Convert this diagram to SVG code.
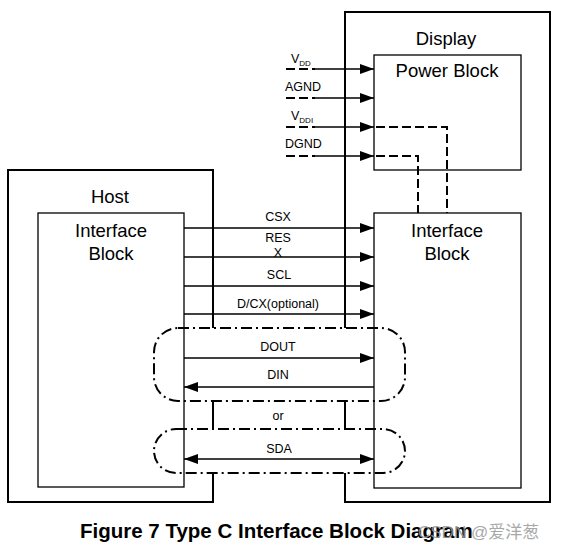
<svg xmlns="http://www.w3.org/2000/svg" width="563" height="552" viewBox="0 0 563 552">
<style>
text{font-family:"Liberation Sans",Arial,sans-serif;fill:#000}
.big{font-size:18.5px;text-anchor:middle}
.sm{font-size:12.5px;text-anchor:middle}
.pw{font-size:12.5px}
.sub{font-size:8px}
.outer{fill:none;stroke:#000;stroke-width:2}
.inner{fill:#fff;stroke:#000;stroke-width:1.3}
.sig{fill:none;stroke:#000;stroke-width:1.3}
.dash{fill:none;stroke:#000;stroke-width:2;stroke-dasharray:9 4}
.dd{fill:none;stroke:#000;stroke-width:2;stroke-dasharray:11 4 2 4}
</style>
<defs>
<marker id="ah" markerWidth="15" markerHeight="11" refX="14" refY="5" orient="auto-start-reverse" markerUnits="userSpaceOnUse">
<path d="M0,0 L14,5 L0,10 z" fill="#000"/>
</marker>
</defs>
<g id="host">
<path class="outer" d="M213,328 L213,170 L8,170 L8,502 L213,502 L213,473"/>
<line class="outer" x1="213" y1="401" x2="213" y2="429"/>
<text class="big" x="110" y="203">Host</text>
</g>
<g id="display">
<path class="outer" d="M345,328 L345,12 L550,12 L550,502 L345,502 L345,473"/>
<line class="outer" x1="345" y1="401" x2="345" y2="429"/>
<text class="big" x="446" y="45">Display</text>
</g>
<g id="host-interface">
<rect class="inner" x="38" y="213" width="146" height="274"/>
<text class="big" x="111" y="237">Interface</text>
<text class="big" x="111" y="260">Block</text>
</g>
<g id="power-block">
<rect class="inner" x="374" y="55" width="147" height="115"/>
<text class="big" x="447" y="77">Power Block</text>
</g>
<g id="display-interface">
<rect class="inner" x="374" y="213" width="147" height="275"/>
<text class="big" x="447" y="237">Interface</text>
<text class="big" x="447" y="260">Block</text>
</g>
<g id="connectors">
<!-- power inputs -->
<line class="dash" x1="286" y1="69" x2="315" y2="69" stroke-dasharray="10 4"/>
<line class="sig" x1="314" y1="69" x2="374" y2="69" marker-end="url(#ah)"/>
<line class="dash" x1="286" y1="98" x2="315" y2="98" stroke-dasharray="10 4"/>
<line class="sig" x1="314" y1="98" x2="374" y2="98" marker-end="url(#ah)"/>
<line class="dash" x1="286" y1="127" x2="315" y2="127" stroke-dasharray="10 4"/>
<line class="sig" x1="314" y1="127" x2="374" y2="127" marker-end="url(#ah)"/>
<line class="dash" x1="286" y1="156" x2="315" y2="156" stroke-dasharray="10 4"/>
<line class="sig" x1="314" y1="156" x2="374" y2="156" marker-end="url(#ah)"/>
<path class="dash" d="M376,127 L447,127 L447,213"/>
<path class="dash" d="M376,156 L418,156 L418,213"/>
<!-- control signals -->
<line class="sig" x1="184" y1="228" x2="374" y2="228" marker-end="url(#ah)"/>
<line class="sig" x1="184" y1="257" x2="374" y2="257" marker-end="url(#ah)"/>
<line class="sig" x1="184" y1="286" x2="374" y2="286" marker-end="url(#ah)"/>
<line class="sig" x1="184" y1="314" x2="374" y2="314" marker-end="url(#ah)"/>
<!-- data -->
<line class="sig" x1="184" y1="358" x2="374" y2="358" marker-end="url(#ah)"/>
<line class="sig" x1="374" y1="387" x2="184" y2="387" marker-end="url(#ah)"/>
<line class="sig" x1="184" y1="459" x2="374" y2="459" marker-start="url(#ah)" marker-end="url(#ah)"/>
<rect class="dd" x="154" y="328" width="251" height="73" rx="24" ry="24"/>
<rect class="dd" x="154" y="429" width="251" height="44" rx="22" ry="22"/>
</g>
<g id="labels">
<text class="pw" x="291" y="63">V<tspan class="sub" dy="3">DD</tspan></text>
<text class="pw" x="285" y="91">AGND</text>
<text class="pw" x="291" y="120">V<tspan class="sub" dy="3">DDI</tspan></text>
<text class="pw" x="285" y="148">DGND</text>
<text class="sm" x="278" y="221">CSX</text>
<text class="sm" x="278" y="242">RES</text>
<text class="sm" x="278" y="257">X</text>
<text class="sm" x="279" y="279">SCL</text>
<text class="sm" x="278" y="308">D/CX(optional)</text>
<text class="sm" x="278" y="351">DOUT</text>
<text class="sm" x="278" y="379">DIN</text>
<text class="sm" x="278" y="420">or</text>
<text class="sm" x="279" y="453">SDA</text>
</g>
<text x="80" y="538" style="font-size:20.5px;font-weight:bold">Figure 7 Type C Interface Block Diagram</text>
<text x="418" y="538" style="font-family:'Liberation Sans','Noto Sans CJK SC',sans-serif;font-size:17px;fill:#999;opacity:0.85">CSDN @爱洋葱</text>
</svg>
